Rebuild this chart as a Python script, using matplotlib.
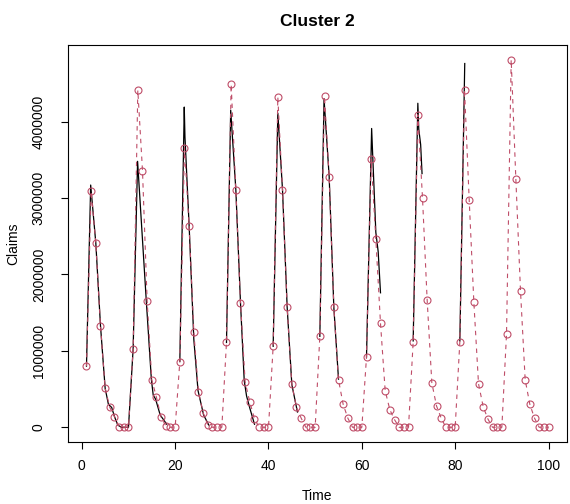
import numpy as np
import matplotlib.pyplot as plt

plt.rcParams['font.family'] = ['Liberation Sans', 'DejaVu Sans']

# fitted claims per period (red, dashed with circles)
time = list(range(1, 101))
fitted = [
    0.80, 3.09, 2.41, 1.33, 0.51, 0.26, 0.14, 0.01, 0.00, 0.00,
    1.03, 4.41, 3.36, 1.65, 0.62, 0.39, 0.13, 0.02, 0.00, 0.00,
    0.86, 3.66, 2.63, 1.25, 0.46, 0.19, 0.03, 0.00, 0.00, 0.00,
    1.11, 4.49, 3.11, 1.63, 0.59, 0.33, 0.11, 0.00, 0.00, 0.00,
    1.06, 4.32, 3.11, 1.57, 0.56, 0.26, 0.12, 0.00, 0.00, 0.00,
    1.19, 4.33, 3.28, 1.57, 0.62, 0.30, 0.12, 0.00, 0.00, 0.00,
    0.92, 3.51, 2.46, 1.36, 0.48, 0.23, 0.10, 0.00, 0.00, 0.00,
    1.12, 4.09, 3.00, 1.66, 0.58, 0.28, 0.12, 0.00, 0.00, 0.00,
    1.12, 4.42, 2.98, 1.64, 0.57, 0.27, 0.11, 0.00, 0.00, 0.00,
    1.22, 4.81, 3.25, 1.78, 0.62, 0.30, 0.12, 0.00, 0.00, 0.00,
]

# observed claims (black), finer time steps, gaps between seasons
obs_time = [
    1, 1.9, 3, 4, 5, 5.7, 6.4, 7, 7.7, 8.5, 10, 11, 11.95, 13.8, 14.9, 15.3, 15.8, 16.8, 18.2, np.nan,
    21, 21.95, 22.1, 23, 24, 24.9, 26.1, 27.2, np.nan,
    31, 31.9, 33, 34, 34.8, 35.3, 36, 37, np.nan,
    41, 42, 43, 44, 45, 46.2, np.nan,
    51, 51.9, 53, 54, 55, np.nan,
    61, 62.1, 62.3, 63, 63.5, 64, np.nan,
    71, 72, 72.2, 72.6, 72.9, np.nan,
    81, 82.05,
]
obs_claims = [
    0.80, 3.17, 2.41, 1.33, 0.51, 0.30, 0.26, 0.14, 0.03, 0.00, 0.00, 1.03, 3.48, 1.67, 0.63, 0.42, 0.37, 0.16, 0.04, np.nan,
    0.86, 4.19, 3.80, 2.63, 1.15, 0.48, 0.16, 0.03, np.nan,
    1.11, 4.15, 3.11, 1.63, 0.61, 0.41, 0.25, 0.04, np.nan,
    1.06, 4.11, 3.11, 1.57, 0.56, 0.20, np.nan,
    1.19, 4.30, 3.28, 1.57, 0.63, np.nan,
    0.92, 3.91, 3.60, 2.55, 2.30, 1.76, np.nan,
    1.13, 4.24, 3.90, 3.70, 3.32, np.nan,
    1.13, 4.76,
]

fitted = np.array(fitted) * 1e6
obs_claims = np.array(obs_claims) * 1e6

fig = plt.figure(figsize=(5.7, 5.04), dpi=100)
ax = fig.add_axes([68 / 570, 1 - 442 / 504, (567 - 68) / 570, (442 - 45) / 504])

ax.plot(obs_time, obs_claims, color='black', lw=0.9)
ax.plot(time, fitted, color='#BF4D68', lw=0.8, ls=(0, (4, 4)),
        marker='o', ms=5, mfc='none', mec='#BF4D68', mew=0.8)

# R-style 4% padding
x0, x1 = min(time), max(time)
y1 = fitted.max()
ax.set_xlim(x0 - 0.04 * (x1 - x0), x1 + 0.04 * (x1 - x0))
ax.set_ylim(-0.04 * y1, y1 * 1.04)

ax.set_xticks([0, 20, 40, 60, 80, 100])
yt = [0, 1000000, 2000000, 3000000, 4000000]
ax.set_yticks(yt)
ax.set_yticklabels([str(v) for v in yt], rotation=90, va='center')
ax.tick_params(direction='out', length=5, width=0.8, labelsize=10)
ax.tick_params(axis='x', pad=7)
ax.tick_params(axis='y', pad=11)
for s in ax.spines.values():
    s.set_linewidth(0.8)

ax.set_xlabel('Time', fontsize=10, labelpad=12)
ax.set_ylabel('Claims', fontsize=10, labelpad=8)
ax.set_title('Cluster 2', fontsize=12.5, fontweight='bold', pad=14)

fig.savefig('out.png', dpi=100)
